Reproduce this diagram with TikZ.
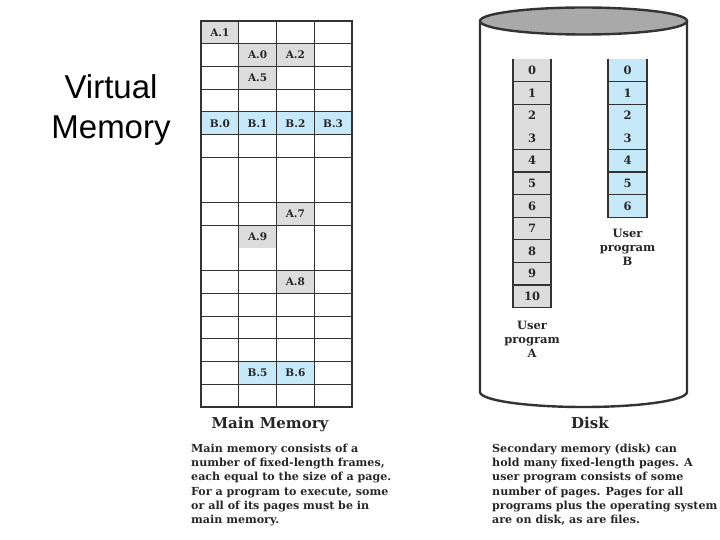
\documentclass[tikz,border=0pt]{standalone}
\usepackage{fontspec}
\setmainfont{DejaVu Serif}
\newfontfamily\arialfont{Liberation Sans}
\definecolor{cellgray}{HTML}{DCDCDC}
\definecolor{cellblue}{HTML}{C6E9FA}
\definecolor{linegray}{HTML}{333333}
\definecolor{diskgray}{HTML}{A9A9A9}
\definecolor{txt}{HTML}{262626}
\begin{document}
\begin{tikzpicture}[x=1pt,y=-1pt,
  gridline/.style={draw=linegray, line width=1.1pt},
  border/.style={draw=linegray, line width=2pt},
  diskline/.style={draw=linegray, line width=2.4pt},
  celltxt/.style={font=\bfseries\fontsize{10.5}{12}\selectfont, text=txt, inner sep=0pt},
  numtxt/.style={font=\bfseries\fontsize{11.5}{12}\selectfont, text=txt, inner sep=0pt},
  disktxt/.style={font=\bfseries\fontsize{11.5}{14}\selectfont, text=txt, inner sep=0pt, align=center},
  titletxt/.style={font=\bfseries\fontsize{15}{18}\selectfont, text=txt, inner sep=0pt},
  paratxt/.style={font=\bfseries\fontsize{11.1}{14.3}\selectfont, text=txt, inner sep=0pt, align=left, anchor=north west}]
\useasboundingbox (0,0) rectangle (720,540);

% Virtual Memory heading
\node[font=\arialfont\fontsize{33}{40}\selectfont, align=center, inner sep=0pt] (vm) at (111,110) {Virtual\\Memory};

% ---------------- Main memory grid ----------------
\fill[cellgray] (201,21) rectangle (238.75,43.7);
\fill[cellgray] (238.75,43.7) rectangle (314.25,66.4);
\fill[cellgray] (238.75,66.4) rectangle (276.5,89.1);
\fill[cellblue] (201,111.8) rectangle (352,134.5);
\fill[cellgray] (276.5,202.6) rectangle (314.25,225.3);
\fill[cellgray] (238.75,225.3) rectangle (276.5,248);
\fill[cellgray] (276.5,270.7) rectangle (314.25,293.4);
\fill[cellblue] (238.75,361.5) rectangle (314.25,384.2);
\foreach \y in {43.7,66.4,89.1,111.8,134.5,157.2,202.6,225.3,270.7,293.4,316.1,338.8,361.5,384.2}
  \draw[gridline] (201,\y) -- (352,\y);
\foreach \x in {238.75,276.5,314.25}
  \draw[gridline] (\x,21) -- (\x,406.9);
\draw[border] (201,21) rectangle (352,406.9);

\node[celltxt] (a1) at (219.9,32.4) {A.1};
\node[celltxt] (a0) at (257.6,55.1) {A.0};
\node[celltxt] (a2) at (295.4,55.1) {A.2};
\node[celltxt] (a5) at (257.6,77.8) {A.5};
\node[celltxt] (b0) at (219.9,123.2) {B.0};
\node[celltxt] (b1) at (257.6,123.2) {B.1};
\node[celltxt] (b2) at (295.4,123.2) {B.2};
\node[celltxt] (b3) at (333.1,123.2) {B.3};
\node[celltxt] (a7) at (295.4,214) {A.7};
\node[celltxt] (a9) at (257.6,236.7) {A.9};
\node[celltxt] (a8) at (295.4,282.1) {A.8};
\node[celltxt] (b5) at (257.6,372.9) {B.5};
\node[celltxt] (b6) at (295.4,372.9) {B.6};

\node[titletxt] (mmtitle) at (270,424) {Main Memory};
\node[paratxt] (mmtext) at (191,443.5) {Main memory consists of a\\number of fixed-length frames,\\each equal to the size of a page.\\For a program to execute, some\\or all of its pages must be in\\main memory.};

% ---------------- Disk ----------------
\draw[diskline] (480,21) -- (480,392) arc[start angle=180, end angle=0, x radius=103.5, y radius=15] -- (687,21);
\draw[diskline, fill=diskgray] (583.5,21) ellipse [x radius=103.5, y radius=13.5];

\fill[cellgray] (513,59) rectangle (551,307.6);
\draw[gridline] (513,59) -- (513,307.6) -- (551,307.6) -- (551,59);
\foreach \k in {1,2,4,5,6,7,8,9,10}
  \draw[gridline] (513,{59+22.6*\k}) -- (551,{59+22.6*\k});
\foreach \k in {0,...,10}
  \node[numtxt] (pa\k) at (532,{59+22.6*(\k+0.5)}) {\k};

\fill[cellblue] (608,59) rectangle (647,217.2);
\draw[gridline] (608,59) -- (608,217.2) -- (647,217.2) -- (647,59);
\foreach \k in {1,2,4,5,6}
  \draw[gridline] (608,{59+22.6*\k}) -- (647,{59+22.6*\k});
\foreach \k in {0,...,6}
  \node[numtxt] (pb\k) at (627.5,{59+22.6*(\k+0.5)}) {\k};

\node[disktxt] (upa) at (532,339) {User\\program\\A};
\node[disktxt] (upb) at (627.5,247) {User\\program\\B};

\node[titletxt] (disktitle) at (590,423) {Disk};
\node[paratxt] (disktext) at (492,443.5) {Secondary memory (disk) can\\hold many fixed-length pages. A\\user program consists of some\\number of pages. Pages for all\\programs plus the operating system\\are on disk, as are files.};
\end{tikzpicture}
\end{document}
